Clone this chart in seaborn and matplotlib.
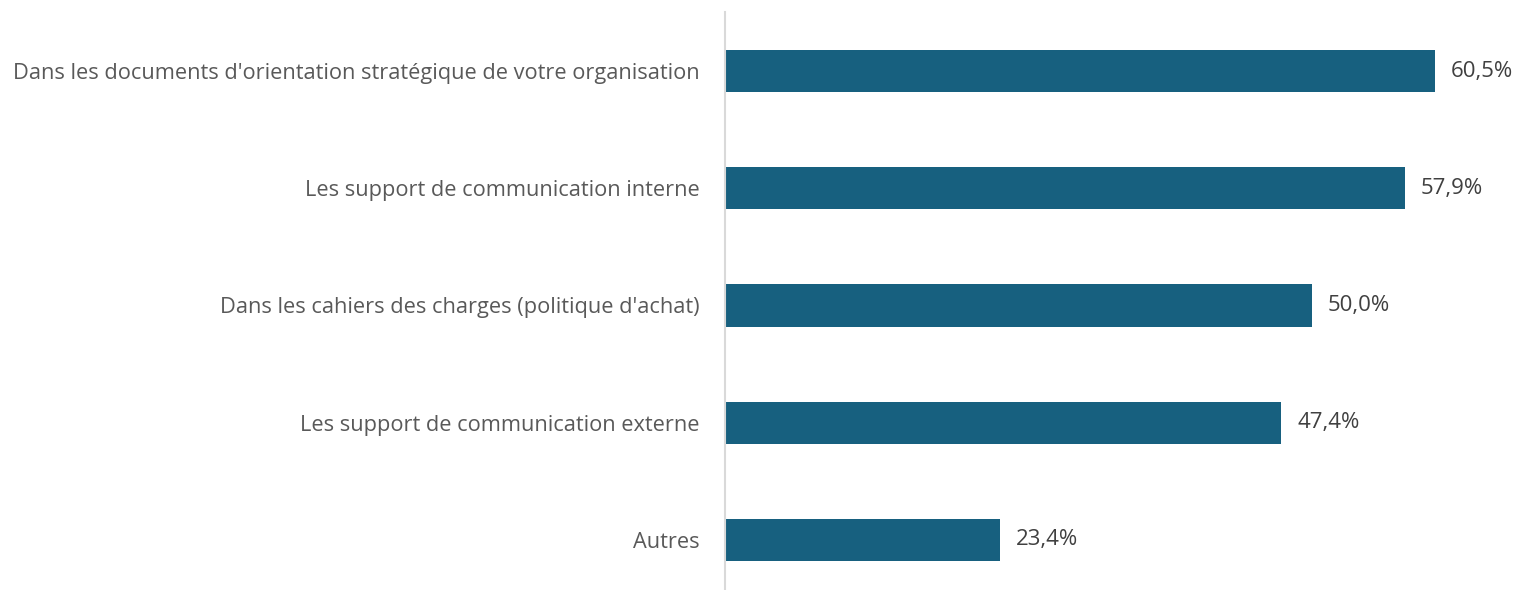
import matplotlib
matplotlib.use("Agg")
import matplotlib.pyplot as plt
import seaborn as sns
import pandas as pd

categories = [
    "Dans les documents d'orientation stratégique de votre organisation",
    "Les support de communication interne",
    "Dans les cahiers des charges (politique d'achat)",
    "Les support de communication externe",
    "Autres",
]
values = [60.5, 57.9, 50.0, 47.4, 23.4]
value_labels = ["60,5%", "57,9%", "50,0%", "47,4%", "23,4%"]

sns.set_style("white")
plt.rcParams['font.family'] = ['Open Sans', 'DejaVu Sans']

df = pd.DataFrame({"cat": categories, "val": values})

fig = plt.figure(figsize=(15.2, 5.9), dpi=100)
ax = fig.add_axes([725/1520, (590-598.6)/590, (1515-725)/1520, 586.2/590])
sns.barplot(data=df, x="val", y="cat", color="#17607f", width=0.36,
            saturation=1, ax=ax, orient="h", linewidth=0)

ax.set_xlim(0, (1515-725)/11.74)
ax.set_ylim(4.5, -0.5)
ax.set_xlabel("")
ax.set_ylabel("")
ax.set_xticks([])
for s in ["top", "right", "bottom"]:
    ax.spines[s].set_visible(False)
ax.spines["left"].set_color("#d9d9d9")
ax.spines["left"].set_linewidth(1.5)
ax.spines["left"].set_bounds(-0.5, 4.5)
ax.tick_params(axis="y", length=0, pad=18, labelsize=15.7, labelcolor="#595959")

for i, (v, lab) in enumerate(zip(values, value_labels)):
    ax.annotate(lab, xy=(v, i), xytext=(11.5, 0), textcoords="offset points",
                va="center", ha="left", fontsize=16, color="#404040")

fig.savefig("out.png", dpi=100)
